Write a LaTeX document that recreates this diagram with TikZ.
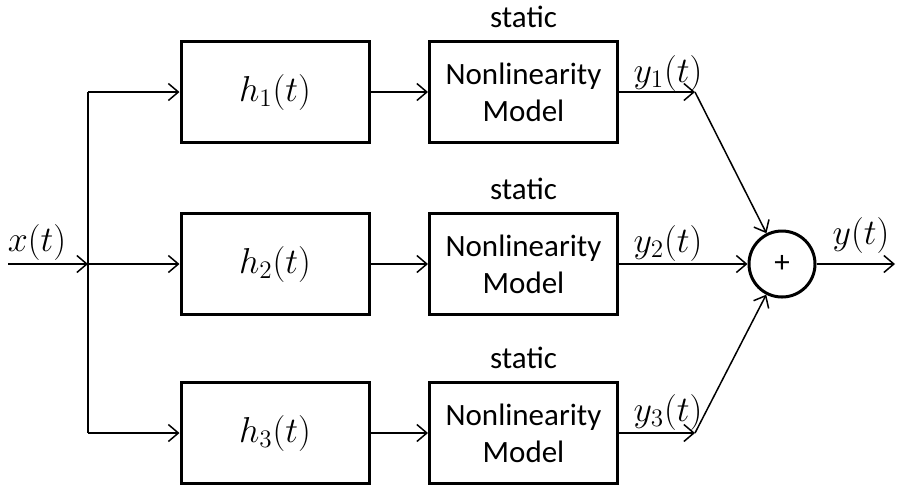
\documentclass[tikz,border=0pt]{standalone}
\usepackage{fix-cm}
\usepackage{fontspec}
\setmainfont{Carlito}
\usetikzlibrary{arrows.meta,positioning}
\tikzset{
	blk/.style={draw,line width=1.5pt,minimum width=94pt,minimum height=50.5pt,inner sep=0pt,align=center,font=\fontsize{15.5}{18.5}\selectfont},
	hblk/.style={blk,font=\fontsize{18}{20}\selectfont},
	sumnode/.style={draw,circle,line width=1.5pt,minimum size=33pt,inner sep=0pt,font=\fontsize{15.5}{18.5}\selectfont},
	sig/.style={line width=0.75pt},
	arr/.style={sig,-{Straight Barb[length=5pt,width=8.5pt,line width=0.75pt]}},
	lbl/.style={inner sep=0pt,font=\fontsize{18}{20}\selectfont},
	txt/.style={inner sep=0pt,font=\fontsize{15.5}{18.5}\selectfont}
}
\begin{document}
\begin{tikzpicture}[x=0.5pt,y=-0.5pt]
		\useasboundingbox (0,0) rectangle (898,484);
		\coordinate (in) at (8,264);
		\coordinate (b1) at (88,92);
		\coordinate (b2) at (88,264);
		\coordinate (b3) at (88,433);
		\node[hblk] (h1) at (275,92) {$h_1(t)$};
		\node[hblk] (h2) at (275,264) {$h_2(t)$};
		\node[hblk] (h3) at (275,433) {$h_3(t)$};
		\node[blk] (nl1) at (523.5,92) {Nonlinearity\\Model};
		\node[blk] (nl2) at (523.5,264) {Nonlinearity\\Model};
		\node[blk] (nl3) at (523.5,433) {Nonlinearity\\Model};
		\node[txt,above=6pt of nl1] (st1) {static};
		\node[txt,above=6pt of nl2] (st2) {static};
		\node[txt,above=6pt of nl3] (st3) {static};
		\coordinate (c1) at (695,92);
		\coordinate (c3) at (695,433);
		\node[sumnode] (sum) at (782,264) {+};
		\coordinate (out) at (895,264);
		\node[lbl] (xl) at (37,242) {$x(t)$};
		\node[lbl] (y1l) at (668,73) {$y_1(t)$};
		\node[lbl] (y2l) at (668,243) {$y_2(t)$};
		\node[lbl] (y3l) at (668,412) {$y_3(t)$};
		\node[lbl] (yl) at (861,235) {$y(t)$};
		\draw[arr] (in) -- (b2);
		\draw[sig] (b1) -- (b3);
		\draw[arr] (b1) -- (h1);
		\draw[arr] (b2) -- (h2);
		\draw[arr] (b3) -- (h3);
		\draw[arr] (h1) -- (nl1);
		\draw[arr] (h2) -- (nl2);
		\draw[arr] (h3) -- (nl3);
		\draw[arr] (nl1) -- (c1);
		\draw[arr] (nl3) -- (c3);
		\draw[arr] (c1) -- (sum);
		\draw[arr] (nl2) -- (sum);
		\draw[arr] (c3) -- (sum);
		\draw[arr] (sum) -- (out);
	\end{tikzpicture}
\end{document}
